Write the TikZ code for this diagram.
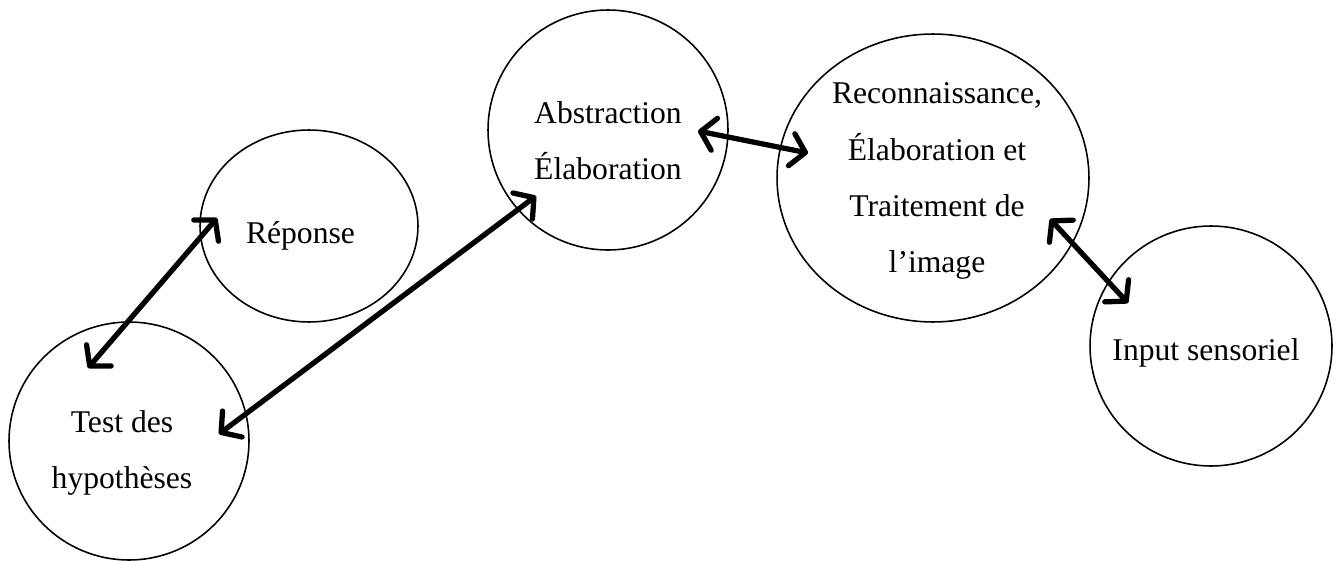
\documentclass[tikz,border=0pt]{standalone}
\usepackage{fontspec}
\setmainfont{Liberation Serif}
\usetikzlibrary{arrows.meta, shapes.geometric}

\tikzset{
  bulle/.style={draw, ellipse, line width=0.9pt, inner sep=0pt},
  txt/.style={align=center, inner sep=0pt, font=\fontsize{18pt}{31.9pt}\selectfont},
  fleche/.style={line width=3pt,
    {Straight Barb[round, length=2.8mm, width=6.5mm]}-{Straight Barb[round, length=2.8mm, width=6.5mm]}}
}

\begin{document}
\begin{tikzpicture}[x=0.02cm, y=-0.02cm]
	\useasboundingbox (0,0) rectangle (1336,561);
	
	\node[bulle, minimum width=4.36cm, minimum height=3.84cm,
	  label={[txt, xshift=-0.17cm, yshift=-0.2cm]center:{Réponse}}] (rep) at (309,226) {};
	\node[bulle, minimum width=4.8cm, minimum height=4.76cm,
	  label={[txt, xshift=-0.14cm, yshift=-0.24cm]center:{Test des\\hypothèses}}] (test) at (129,441) {};
	\node[bulle, minimum width=4.8cm, minimum height=4.8cm,
	  label={[txt, yshift=-0.22cm]center:{Abstraction\\Élaboration}}] (abs) at (608,130) {};
	\node[bulle, minimum width=6.24cm, minimum height=5.76cm,
	  label={[txt, xshift=0.08cm, yshift=-0.06cm]center:{Reconnaissance,\\Élaboration et\\Traitement de\\l’image}}] (rec) at (933,178) {};
	\node[bulle, minimum width=4.84cm, minimum height=4.8cm,
	  label={[txt, xshift=-0.1cm, yshift=-0.14cm]center:{Input sensoriel}}] (inp) at (1211,346) {};
	
	\coordinate (T1) at (88,368);
	\coordinate (R1) at (217,218);
	\coordinate (T2) at (219,434);
	\coordinate (A2) at (536,196);
	\coordinate (A3) at (698,131);
	\coordinate (C3) at (808,153);
	\coordinate (C4) at (1050,219);
	\coordinate (I4) at (1128,303);
	
	\draw[fleche] (T1) -- (R1);
	\draw[fleche] (T2) -- (A2);
	\draw[fleche] (A3) -- (C3);
	\draw[fleche] (C4) -- (I4);
\end{tikzpicture}
\end{document}
